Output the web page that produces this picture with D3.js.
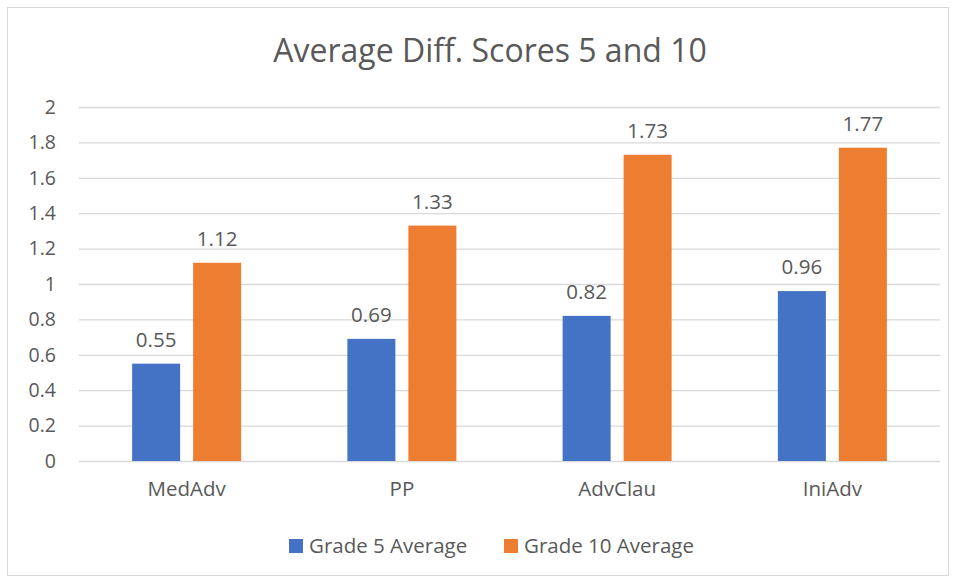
<!DOCTYPE html>
<html>
<head>
<meta charset="utf-8">
<script src="https://cdn.jsdelivr.net/npm/d3@7"></script>
<style>
  body { margin: 0; background: #fff; }
  text { font-family: "Open Sans", "Noto Sans", sans-serif; fill: #595959; }
</style>
</head>
<body>
<svg id="chart"></svg>
<script>
const categories = ['MedAdv', 'PP', 'AdvClau', 'IniAdv'];
const seriesNames = ['Grade 5 Average', 'Grade 10 Average'];
const grade5 = [0.55, 0.69, 0.82, 0.96];
const grade10 = [1.12, 1.33, 1.73, 1.77];
const yTicks = [0, 0.2, 0.4, 0.6, 0.8, 1, 1.2, 1.4, 1.6, 1.8, 2];
const colors = ['#4472C4', '#ED7D31'];

const width = 954;
const height = 579;
const margin = { top: 107, right: 14, bottom: 118, left: 79 };

const svg = d3.select('#chart')
    .attr('width', width)
    .attr('height', height);

// chart frame
svg.append('rect')
    .attr('x', 7.5)
    .attr('y', 7.5)
    .attr('width', width - 13)
    .attr('height', height - 11)
    .attr('fill', '#fff')
    .attr('stroke', '#D9D9D9');

svg.append('text')
    .attr('x', 490)
    .attr('y', 62)
    .attr('text-anchor', 'middle')
    .attr('font-size', 32)
    .text('Average Diff. Scores 5 and 10');

const x0 = d3.scaleBand()
    .domain(categories)
    .range([margin.left, width - margin.right]);

const barW = 48;
const gap = 13;

const y = d3.scaleLinear()
    .domain([0, 2])
    .range([height - margin.bottom, margin.top]);

const yAxis = svg.append('g')
    .attr('transform', `translate(${margin.left},0)`)
    .call(d3.axisLeft(y)
        .tickValues(yTicks)
        .tickSize(-(width - margin.left - margin.right))
        .tickPadding(23)
        .tickFormat(d => d3.format('')(d)));

yAxis.select('.domain').remove();
yAxis.selectAll('.tick line')
    .attr('stroke', '#D9D9D9')
    .attr('stroke-width', 1.3);
yAxis.selectAll('.tick text')
    .attr('font-size', 19.5)
    .attr('fill', '#595959')
    .style('font-family', '"Open Sans", sans-serif');

const xAxis = svg.append('g')
    .attr('transform', `translate(0,${y(0)})`)
    .call(d3.axisBottom(x0).tickSize(0).tickPadding(20));
xAxis.select('.domain').remove();
xAxis.selectAll('.tick text')
    .attr('font-size', 20.5)
    .attr('fill', '#595959')
    .style('font-family', '"Open Sans", sans-serif');

const series = [grade5, grade10];

series.forEach((vals, si) => {
    const offset = si === 0 ? -(gap / 2 + barW) : gap / 2;
    const g = svg.append('g');
    g.selectAll('rect')
        .data(vals)
        .enter().append('rect')
        .attr('x', (d, i) => x0(categories[i]) + x0.bandwidth() / 2 + offset)
        .attr('y', d => y(d))
        .attr('width', barW)
        .attr('height', d => y(0) - y(d))
        .attr('fill', colors[si]);

    g.selectAll('text')
        .data(vals)
        .enter().append('text')
        .attr('x', (d, i) => x0(categories[i]) + x0.bandwidth() / 2 + offset + barW / 2)
        .attr('y', d => y(d) - 17)
        .attr('text-anchor', 'middle')
        .attr('font-size', 20.5)
        .text(d => d3.format('.2f')(d));
});

// legend
const legendX = [289, 504];
const legend = svg.append('g');
seriesNames.forEach((name, i) => {
    legend.append('rect')
        .attr('x', legendX[i])
        .attr('y', 539)
        .attr('width', 14)
        .attr('height', 14)
        .attr('fill', colors[i]);
    legend.append('text')
        .attr('x', legendX[i] + 20)
        .attr('y', 553)
        .attr('font-size', 20.5)
        .text(name);
});
</script>
</body>
</html>
